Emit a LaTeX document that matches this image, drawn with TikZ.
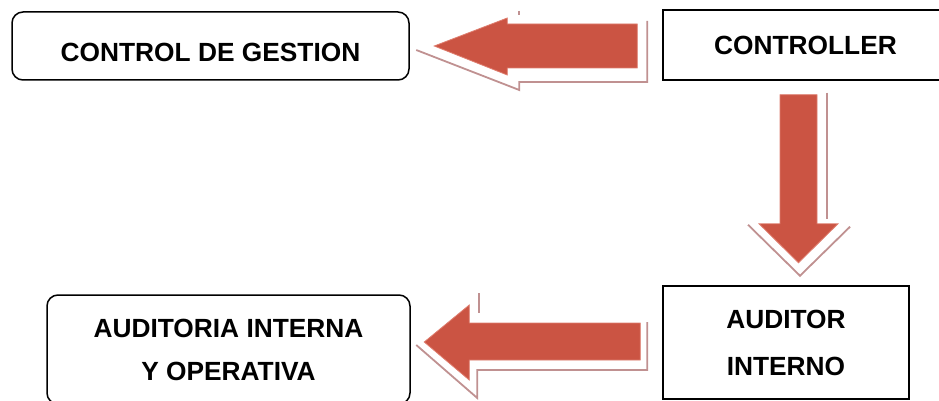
\documentclass[tikz,border=0pt]{standalone}
\usepackage{fontspec}
\setmainfont{Liberation Sans}
\usepackage{tikz}

\definecolor{arrowred}{RGB}{203,84,67}
\definecolor{arrowedge}{RGB}{222,125,110}
\definecolor{shadowline}{RGB}{192,145,145}

\tikzset{
  squarebox/.style={draw=black, line width=1.5pt, inner sep=0pt, align=center},
  roundbox/.style={squarebox, rounded corners=11pt},
  boxtext/.style={font={\fontsize{26.3pt}{#1}\selectfont\bfseries}},
  blockarrow/.style={fill=arrowred, draw=arrowedge, line width=0.8pt},
  arrowshadow/.style={draw=shadowline, line width=1.8pt}
}

\begin{document}
\begin{tikzpicture}[x=1pt, y=-1pt]

  \useasboundingbox (0,0) rectangle (939,401);

    % Control de gestion
    \node[roundbox, boxtext=45pt, minimum width=397pt, minimum height=68pt,
          text height=32pt, text depth=0pt] (gestion) at (210.5,46) {CONTROL DE GESTION};

    % Controller
    \node[squarebox, boxtext=45pt, minimum width=285pt, minimum height=70pt] (ctrl) at (805.5,45) {CONTROLLER};

    % Auditor interno
    \node[squarebox, boxtext=47pt, minimum width=246pt, minimum height=113pt] (aud) at (786,342.5) {AUDITOR\\INTERNO};

    % Auditoria interna y operativa
    \node[roundbox, boxtext=43pt, minimum width=363pt, minimum height=109pt] (audop) at (228.5,349.5) {AUDITORIA INTERNA\\Y OPERATIVA};

    % Controller -> Control de gestion
    \begin{scope}[shift={(ctrl.west)}]
      \draw[arrowshadow] (-15,-24) -- (-15,37) -- (-143,37) -- (-143,45) -- (-246,5);
      \draw[arrowshadow] (-143,-34) -- (-143,-30);
      \draw[blockarrow] (-25,-21) -- (-155,-21) -- (-155,-27) -- (-228,1) -- (-155,30) -- (-155,23) -- (-25,23) -- cycle;
    \end{scope}

    % Controller -> Auditor interno
    \begin{scope}[shift={(ctrl.south)}]
      \draw[arrowshadow] (21.5,12) -- (21.5,138);
      \draw[arrowshadow] (44.5,146) -- (-5.5,195) -- (-57.5,144);
      \draw[blockarrow] (-25.5,14) -- (-25.5,143) -- (-46.5,143) -- (-7,182) -- (32.5,143) -- (11.5,143) -- (11.5,14) -- cycle;
    \end{scope}

    % Auditor interno -> Auditoria interna y operativa
    \begin{scope}[shift={(aud.west)}]
      \draw[arrowshadow] (-15,-20.5) -- (-15,27.5) -- (-185,27.5) -- (-185,55.5) -- (-246,2.5);
      \draw[arrowshadow] (-183,-49.5) -- (-183,-29.5);
      \draw[blockarrow] (-22,-19.5) -- (-193,-19.5) -- (-193,-37.5) -- (-238,-0.5) -- (-193,37.5) -- (-193,17.5) -- (-22,17.5) -- cycle;
    \end{scope}

\end{tikzpicture}
\end{document}
